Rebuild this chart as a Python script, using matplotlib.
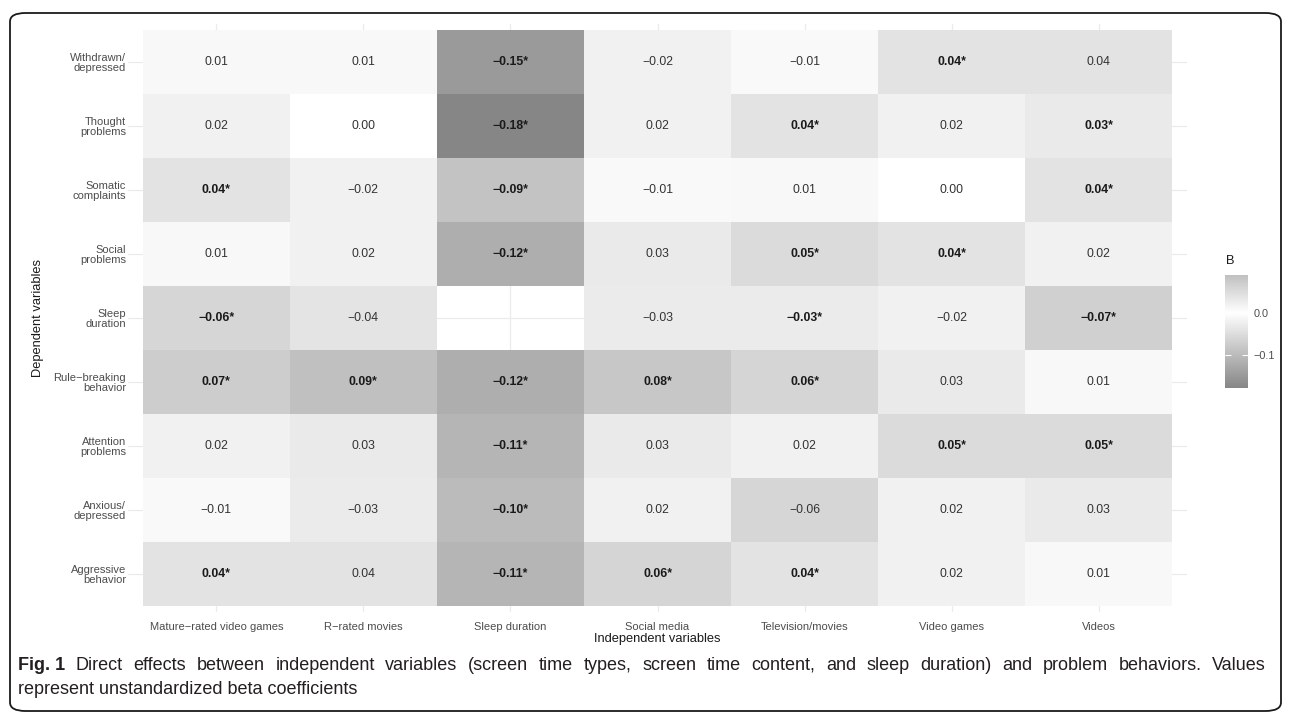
import numpy as np
import matplotlib
matplotlib.use("Agg")
import matplotlib.pyplot as plt
from matplotlib.colors import LinearSegmentedColormap, Normalize
from matplotlib.cm import ScalarMappable
from matplotlib.patches import FancyBboxPatch

MINUS = "\u2212"

# Dependent variables (rows, top to bottom)
outcomes = [
    "Withdrawn/\ndepressed", "Thought\nproblems", "Somatic\ncomplaints",
    "Social\nproblems", "Sleep\nduration", f"Rule{MINUS}breaking\nbehavior",
    "Attention\nproblems", "Anxious/\ndepressed", "Aggressive\nbehavior",
]
# Independent variables (columns, left to right)
predictors = [
    f"Mature{MINUS}rated video games", f"R{MINUS}rated movies", "Sleep duration",
    "Social media", "Television/movies", "Video games", "Videos",
]

# Unstandardized beta coefficients, one list per outcome
withdrawn = [0.01, 0.01, -0.15, -0.02, -0.01, 0.04, 0.04]
thought = [0.02, 0.00, -0.18, 0.02, 0.04, 0.02, 0.03]
somatic = [0.04, -0.02, -0.09, -0.01, 0.01, 0.00, 0.04]
social = [0.01, 0.02, -0.12, 0.03, 0.05, 0.04, 0.02]
sleep = [-0.06, -0.04, np.nan, -0.03, -0.03, -0.02, -0.07]
rule_breaking = [0.07, 0.09, -0.12, 0.08, 0.06, 0.03, 0.01]
attention = [0.02, 0.03, -0.11, 0.03, 0.02, 0.05, 0.05]
anxious = [-0.01, -0.03, -0.10, 0.02, -0.06, 0.02, 0.03]
aggressive = [0.04, 0.04, -0.11, 0.06, 0.04, 0.02, 0.01]

# Significance flags (1 = significant, shown bold with an asterisk)
sig_withdrawn = [0, 0, 1, 0, 0, 1, 0]
sig_thought = [0, 0, 1, 0, 1, 0, 1]
sig_somatic = [1, 0, 1, 0, 0, 0, 1]
sig_social = [0, 0, 1, 0, 1, 1, 0]
sig_sleep = [1, 0, 0, 0, 1, 0, 1]
sig_rule_breaking = [1, 1, 1, 1, 1, 0, 0]
sig_attention = [0, 0, 1, 0, 0, 1, 1]
sig_anxious = [0, 0, 1, 0, 0, 0, 0]
sig_aggressive = [1, 0, 1, 1, 1, 0, 0]

caption_label = "Fig. 1"
caption_line1 = ("Direct effects between independent variables (screen time types, "
                 "screen time content, and sleep duration) and problem behaviors. Values")
caption_line2 = "represent unstandardized beta coefficients"

beta = np.array([withdrawn, thought, somatic, social, sleep, rule_breaking,
                 attention, anxious, aggressive], dtype=float)
sig = np.array([sig_withdrawn, sig_thought, sig_somatic, sig_social, sig_sleep,
                sig_rule_breaking, sig_attention, sig_anxious, sig_aggressive])

plt.rcParams["font.family"] = ["Liberation Sans", "DejaVu Sans"]

W, H = 1290, 719
fig = plt.figure(figsize=(W / 100, H / 100), dpi=100)
fig.patch.set_facecolor("white")

# Rounded frame around the figure and caption
frame = FancyBboxPatch((10 / W, 8 / H), 1271 / W, 698 / H,
                       boxstyle="round,pad=0,rounding_size=0.012",
                       transform=fig.transFigure, fill=False,
                       edgecolor="#1a1a1a", linewidth=1.3)
fig.patches.append(frame)

# Grey scale that is white at zero and darkens with |B|
vmin, vmax = -0.18, 0.09
lo, hi = 134 / 255, 192 / 255
cmap = LinearSegmentedColormap.from_list(
    "beta_grey",
    [(0.0, (lo, lo, lo)), (-vmin / (vmax - vmin), (1, 1, 1)), (1.0, (hi, hi, hi))])
norm = Normalize(vmin, vmax)

# Panel geometry (pixels)
px_left, px_right = 128, 1187
px_top, px_bottom = 24, 612
ax = fig.add_axes([px_left / W, 1 - px_bottom / H,
                   (px_right - px_left) / W, (px_bottom - px_top) / H])

n_rows, n_cols = beta.shape
ax.pcolormesh(np.arange(n_cols + 1) - 0.5, np.arange(n_rows + 1) - 0.5,
              np.ma.masked_invalid(beta), cmap=cmap, norm=norm,
              shading="flat", zorder=1)
ax.set_xlim(-0.6, n_cols - 0.4)
ax.set_ylim(n_rows - 0.4, -0.6)

ax.set_xticks(range(n_cols))
ax.set_xticklabels(predictors)
ax.set_yticks(range(n_rows))
ax.set_yticklabels(outcomes, ha="right", multialignment="right", linespacing=1.0)
ax.set_axisbelow(True)
ax.grid(True, color="#ebebeb", linewidth=0.9, zorder=0)
ax.tick_params(length=0, labelsize=8.0, labelcolor="#4d4d4d")
ax.tick_params(axis="x", pad=7)
ax.tick_params(axis="y", pad=1.5)
for s in ax.spines.values():
    s.set_visible(False)

for i in range(n_rows):
    for j in range(n_cols):
        v = beta[i, j]
        if np.isnan(v):
            continue
        txt = f"{v:.2f}".replace("-", MINUS)
        if sig[i, j]:
            ax.text(j, i, txt + "*", ha="center", va="center", fontsize=8.8,
                    fontweight="bold", color="#1a1a1a", zorder=3)
        else:
            ax.text(j, i, txt, ha="center", va="center", fontsize=8.8,
                    color="#333333", zorder=3)

ax.set_xlabel("Independent variables", fontsize=9.3, color="#1a1a1a", labelpad=1)
fig.text(38 / W, 1 - 318 / H, "Dependent variables", rotation=90,
         ha="center", va="center", fontsize=9.3, color="#1a1a1a")

# Colour bar legend
cax = fig.add_axes([1225 / W, 1 - 388 / H, 23 / W, 113 / H])
cb = fig.colorbar(ScalarMappable(norm=norm, cmap=cmap), cax=cax, ticks=[-0.1, 0.0])
cb.ax.set_yticklabels([f"{MINUS}0.1", "0.0"])
cb.outline.set_visible(False)
cb.ax.tick_params(direction="in", length=4.5, width=0.8, color="white",
                  labelsize=7.8, labelcolor="#4d4d4d", left=True, right=True, pad=4)
fig.text(1226 / W, 1 - 261 / H, "B", ha="left", va="center", fontsize=9.3,
         color="#1a1a1a")

# Caption: first line justified across the frame, second line left-aligned
renderer = fig.canvas.get_renderer()
cap_size = 13.0
cap_color = "#231f20"
x0, x1 = 18, 1266
y1 = 1 - 665 / H
words = [(caption_label, "bold")] + [(w, "normal") for w in caption_line1.split()]
objs = []
for w, weight in words:
    t = fig.text(0, y1, w, ha="left", va="center", fontsize=cap_size,
                 fontweight=weight, color=cap_color)
    objs.append(t)
widths = [t.get_window_extent(renderer).width for t in objs]
gap = (x1 - x0 - sum(widths)) / (len(objs) - 1)
x = x0
for t, wd in zip(objs, widths):
    t.set_x(x / W)
    x += wd + gap
fig.text(x0 / W, 1 - 690 / H, caption_line2, ha="left", va="center",
         fontsize=cap_size, color=cap_color)

fig.savefig("out.png", dpi=100, facecolor="white")
